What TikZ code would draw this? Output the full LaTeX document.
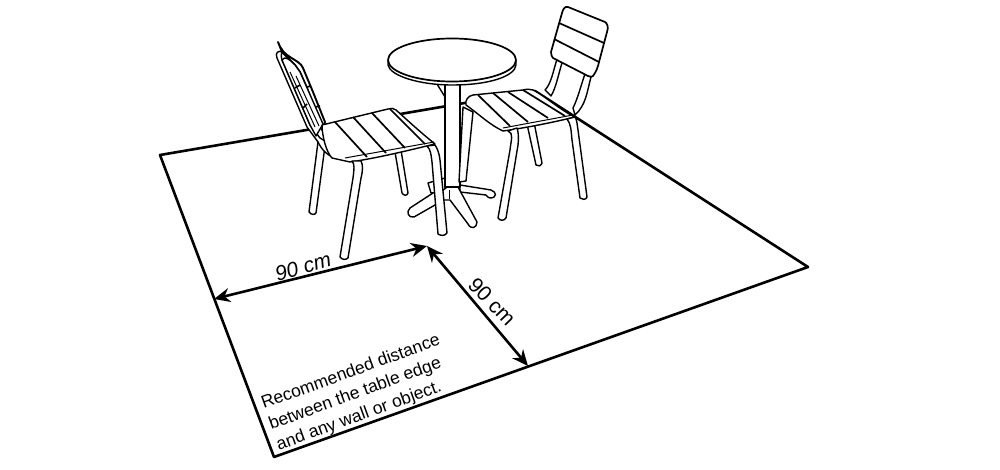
\documentclass[tikz,border=0pt]{standalone}
\usepackage{fontspec}
\setmainfont{Liberation Sans}
\usetikzlibrary{positioning, arrows.meta}
\tikzset{
	x=1pt, y=-1pt,
	floor/.style={line width=2.6pt},
	furn/.style={line width=1.4pt, fill=white, line join=round},
	slat/.style={line width=1.7pt},
	thin line/.style={line width=1pt},
	dim/.style={line width=2.6pt, {Stealth[length=16pt,width=14pt]}-{Stealth[length=16pt,width=14pt]}},
	lab/.style={inner sep=0pt, font=\fontsize{21}{22}\selectfont},
	note/.style={inner sep=0pt, align=left, font=\fontsize{17.5}{22}\selectfont},
}
\begin{document}
\begin{tikzpicture}
	\useasboundingbox (0,0) rectangle (1000,470);
	% floor
	\coordinate (fa) at (160,155);
	\coordinate (fb) at (535,91);
	\coordinate (fc) at (808,267);
	\coordinate (fd) at (274,457);
	\draw[floor, line join=round] (fa) -- (fb) -- (fc) -- (fd) -- cycle;
	% table base
	\draw[furn] (428,183) -- (445,178) -- (445,192) -- (431,193) -- cycle;
	\draw[furn] (433,193) -- (410,208) .. controls (406,212) and (408,218) .. (414,217) -- (435,205) -- (442,201) -- (442,190) -- cycle;
	\draw[furn] (460,185) -- (491,190) .. controls (497,192) and (497,198) .. (490,198) .. controls (488,198) and (487,196) .. (486,195) -- (460,192) -- cycle;
	\draw[furn] (447,187) -- (458,187) -- (477,222) .. controls (477,228) and (471,230) .. (468,224) -- (450,200) -- (443,200) -- (442,191) -- cycle;
	\draw[thin line] (449,190) -- (449,199);
	% table
	\draw[furn] (437,84) -- (445,97) -- (445,84) -- cycle;
	\draw[furn] (445,80) -- (445,187) -- (460,187) -- (460,80) -- cycle;
	\draw[furn] (388,61) -- (388,65) .. controls (390,76) and (420,85) .. (452,85) .. controls (490,85) and (515,76) .. (516,65) -- (516,61) -- cycle;
	\draw[furn, line width=1.7pt] (452,60) ellipse [x radius=64, y radius=21.5];
	% right chair
	\draw[furn] (463,107) -- (459,182) -- (466,181) -- (473,112) -- cycle;
	\draw[furn] (527,124) -- (536,165) .. controls (538,167) and (541,166) .. (542,163) -- (534,122) -- cycle;
	\draw[furn] (551,96) .. controls (556,88) and (559,72) .. (562,63) -- (557,59) .. controls (553,72) and (551,84) .. (545,90) -- cycle;
	\draw[furn] (591,77) .. controls (587,92) and (586,105) .. (575,115) -- (573,108) .. controls (578,98) and (581,85) .. (585,74) -- cycle;
	\draw[furn, line width=1.7pt] (568,7) .. controls (565,6) and (563,9) .. (562,13) -- (551,52) .. controls (551,55) and (552,57) .. (553,58) -- (588,76) .. controls (591,77) and (592,77) .. (593,76) .. controls (596,72) and (598,67) .. (599,62) -- (607,32) .. controls (609,27) and (607,23) .. (605,22) -- cycle;
	\draw[slat] (559,23) -- (604,43);
	\draw[slat] (554,39) -- (599,62);
	\draw[furn] (473,95) .. controls (468,96) and (465,100) .. (466,105) .. controls (480,115) and (490,125) .. (503,131) .. controls (525,128) and (555,122) .. (575,117) .. controls (560,110) and (545,96) .. (533,90) .. controls (530,89) and (527,89) .. (523,90) -- cycle;
	\draw[thin line] (503,128) -- (573,115);
	\draw[slat] (478,95) -- (510,126);
	\draw[slat] (493,93) -- (528,122);
	\draw[slat] (508,92) -- (548,118);
	\draw[slat] (523,90) -- (565,116);
	\draw[furn] (508,131) .. controls (514,133) and (511,140) .. (510,150) -- (498,218) .. controls (500,221) and (504,221) .. (506,218) -- (518,145) .. controls (519,136) and (518,131) .. (517,128) -- cycle;
	\draw[furn] (567,119) .. controls (571,124) and (571,130) .. (572,140) -- (580,198) .. controls (582,200) and (586,200) .. (587,197) -- (578,130) .. controls (577,124) and (577,120) .. (575,117) -- cycle;
	% left chair
	\draw[furn] (318,142) -- (309,212) .. controls (311,215) and (315,215) .. (316,213) -- (325,146) -- cycle;
	\draw[furn] (395,152) -- (402,193) .. controls (404,196) and (407,196) .. (408,193) -- (401,150) -- cycle;
	\draw[furn, line width=1.9pt] (278,42) .. controls (281,50) and (285,54) .. (290,57) .. controls (296,61) and (301,63) .. (303,68) -- (313,92) -- (325,122) -- (322,130) -- (307,88) -- (300,72) -- (295,65) -- (282,52) -- cycle;
	\draw[furn] (282,52) .. controls (278,50) and (275,53) .. (277,58) -- (307,127) -- (318,142) .. controls (322,150) and (327,155) .. (333,157) -- (340,150) -- (320,138) -- (310,125) -- (282,60) .. controls (281,56) and (281,54) .. (282,52) -- cycle;
	\draw[furn] (282,60) .. controls (285,55) and (290,60) .. (295,65) -- (300,72) -- (323,124) -- (316,136) -- (310,125) -- cycle;
	\draw[thin line] (290,72) -- (315,127);
	\draw[thin line] (296,76) -- (319,126);
	\draw[slat] (295,88) -- (300,85);
	\draw[slat] (303,108) -- (307,104);
	\draw[slat] (307,87) -- (311,86);
	\draw[slat] (315,107) -- (320,106);
	\draw[furn] (322,125) -- (388,109) .. controls (391,108) and (394,108) .. (396,110) .. controls (405,118) and (420,132) .. (435,144) .. controls (410,150) and (378,158) .. (350,162) -- (332,158) .. controls (326,152) and (322,135) .. (322,125) -- cycle;
	\draw[thin line] (345,158) -- (434,142);
	\draw[slat] (335,122) -- (367,157);
	\draw[slat] (353,117) -- (386,153);
	\draw[slat] (372,113) -- (405,148);
	\draw[slat] (390,109) -- (425,144);
	\draw[furn] (352,161) .. controls (355,164) and (354,170) .. (353,178) -- (340,257) .. controls (342,260) and (346,260) .. (348,258) -- (361,178) .. controls (363,170) and (363,165) .. (361,161) -- cycle;
	\draw[furn] (427,146) .. controls (431,150) and (431,155) .. (432,162) -- (438,234) .. controls (441,236) and (445,236) .. (447,233) -- (440,160) .. controls (439,152) and (437,148) .. (435,145) -- cycle;
	% measures
	\coordinate (dl) at (214,299);
	\coordinate (dm) at (427,246);
	\coordinate (dr) at (528,366);
	\draw[dim] (dl) -- (dm);
	\draw[dim] (dm) -- (dr);
	\node[lab, rotate=16, font=\itshape\fontsize{21}{22}\selectfont] (lw) at (303,267) {90 cm};
	\node[lab, rotate=-46] (ld) at (492,302) {90 cm};
	\node[note, rotate=20, anchor=south west] (rec) at (280,454) {Recommended distance\\between the table edge\\and any wall or object.};
\end{tikzpicture}
\end{document}
